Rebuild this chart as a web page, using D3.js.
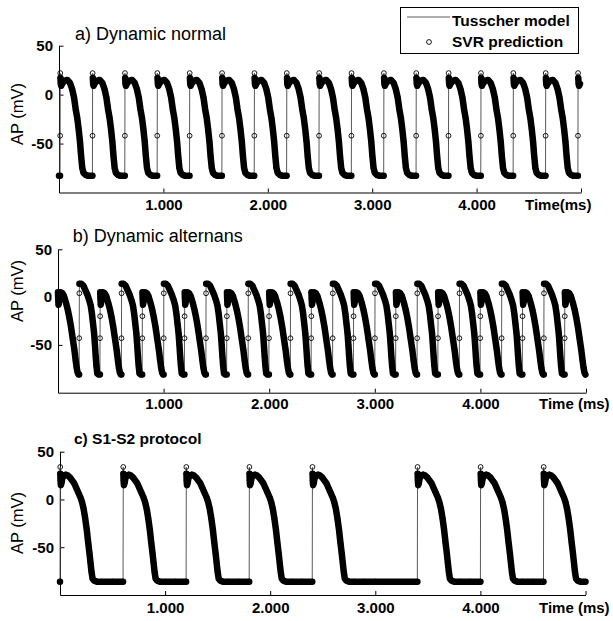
<!DOCTYPE html>
<html><head><meta charset="utf-8">
<script src="https://cdn.jsdelivr.net/npm/d3@7"></script>
<style>body{margin:0;background:#fff} svg{display:block}</style>
</head><body>
<svg id="chart" width="613" height="621"></svg>
<script>
// ================= DATA =================
const yTicks = [-50, 0, 50];
const xTicks = [1000, 2000, 3000, 4000, 5000];
const xTickLabels = ["1.000", "2.000", "3.000", "4.000", ""];
const panelTitles = ["a) Dynamic normal", "b) Dynamic alternans", "c) S1-S2 protocol"];
const xAxisLabels = ["Time(ms)", "Time (ms)", "Time (ms)"];
const yAxisLabel = "AP (mV)";
const legendLabels = ["Tusscher model", "SVR prediction"];

// a) Dynamic normal: beat start times (ms)
const beatStartsA = [0,310,620,930,1240,1550,1860,2170,2480,2790,3100,3410,3720,4030,4340,4650,4960];
// action potential of one beat, [offset ms, mV]: fast upstroke samples and the rest of the beat
const upstrokeA = [[11,-42],[12,22]];
const beatA = [[0,-83],[10,-83],[14,17],[17,11],[21,9],[30,11],[50,14],[80,15],[105,12],[125,6],
  [144,-3],[160,-15],[175,-24],[188,-35],[201,-48],[212,-63],[223,-75],[235,-80],[255,-82],[280,-83],[300,-83]];

// b) Dynamic alternans: short (low) beats and tall beats alternate
const shortStartsB = [-3,397,797,1197,1597,1997,2397,2797,3197,3597,3997,4397,4797];
const tallStartsB = [200,600,1000,1400,1800,2200,2600,3000,3400,3800,4200,4600];
const upstrokeShortB = [[1,-43],[2,-20]];
const beatShortB = [[0,-81],[3,5],[5,-2],[8,-8],[13,-5],[20,1],[30,5],[45,4],[60,1],[79,-6],[95,-13],
  [110,-21],[126,-31],[142,-43],[158,-55],[170,-66],[180,-74],[189,-79],[197,-81]];
const upstrokeTallB = [[1,-43],[2,4]];
const beatTallB = [[0,-81],[3,14],[20,14],[40,12],[60,7],[80,2],[95,-3],[110,-9],[122,-18],[132,-28],
  [142,-38],[150,-50],[157,-62],[164,-72],[172,-80],[185,-81]];

// c) S1-S2 protocol
const beatStartsC = [0,600,1200,1800,2400,3400,4000,4600];
const upstrokeC = [[2,34]];
const beatC = [[0,-86],[3,27],[5,20],[8,15],[14,17],[22,22],[35,25],[55,26],[75,25],[95,23],[115,20],
  [135,17],[155,12],[175,7],[195,2],[210,-3],[225,-10],[240,-20],[255,-32],[268,-45],[280,-56],
  [290,-66],[300,-76],[310,-83],[325,-85],[350,-86],[400,-86],[500,-86],[599,-86]];

// ================= BUILD =================
function buildSeries(beats) {
  const pts = [];
  beats.forEach(b => {
    b.up.forEach(([t, v]) => pts.push({t: b.start + t, v, up: true}));
    b.body.forEach(([t, v]) => pts.push({t: b.start + t, v, up: false}));
  });
  return pts.filter(p => p.t >= 0 && p.t <= 5000).sort((a, b) => a.t - b.t);
}
const seriesA = buildSeries(beatStartsA.map(s => ({start: s, up: upstrokeA, body: beatA})));
const seriesB = buildSeries([
  ...shortStartsB.map(s => ({start: s, up: upstrokeShortB, body: beatShortB})),
  ...tallStartsB.map(s => ({start: s, up: upstrokeTallB, body: beatTallB}))
]);
const seriesC = buildSeries(beatStartsC.map(s => ({start: s, up: upstrokeC, body: beatC})));

const FONT = "'Liberation Sans', Arial, Helvetica, sans-serif";
const svg = d3.select("#chart");
svg.append("rect").attr("width", 613).attr("height", 621).attr("fill", "#fff");

const panels = [
  {series: seriesA, x0: 59, x1: 581, yTop: 45.7, yBot: 192.5, pad: 6.8,
   title: [75, 40, 18, "normal"], ylab: 114, xlab: [525, 210]},
  {series: seriesB, x0: 58, x1: 586, yTop: 249.3, yBot: 392.7, pad: 5.4,
   title: [72.7, 241.7, 18, "normal"], ylab: 291, xlab: [539, 408.5]},
  {series: seriesC, x0: 60, x1: 585.5, yTop: 451.7, yBot: 595, pad: 7.2,
   title: [74, 444, 15.5, "bold"], ylab: 523, xlab: [539, 613]}
];

panels.forEach((p, i) => {
  const x = d3.scaleLinear().domain([0, 5000]).range([p.x0, p.x1]);
  const y = d3.scaleLinear().domain([-100, 50]).range([p.yBot, p.yTop]);
  const g = svg.append("g");

  // axes
  const ax = g.append("g").attr("transform", `translate(0,${p.yBot})`)
    .call(d3.axisBottom(x).tickValues(xTicks).tickSizeInner(-4).tickSizeOuter(0)
      .tickPadding(p.pad).tickFormat((d, k) => xTickLabels[k]));
  const ay = g.append("g").attr("transform", `translate(${x(0)},0)`)
    .call(d3.axisLeft(y).tickValues(yTicks).tickSizeInner(-4.5).tickSizeOuter(0)
      .tickPadding(6).tickFormat(d => String(d)));
  [ax, ay].forEach(a => {
    a.attr("font-family", FONT).attr("font-size", 15).attr("font-weight", "bold");
    a.selectAll("path,line").attr("stroke", "#000");
    a.selectAll("text").attr("fill", "#000");
  });

  // model line (thin)
  g.append("path").datum(p.series)
    .attr("d", d3.line().x(d => x(d.t)).y(d => y(d.v)))
    .attr("fill", "none").attr("stroke", "#5a5a5a").attr("stroke-width", 1);
  // dense SVR prediction samples form a thick band
  g.append("path").datum(p.series)
    .attr("d", d3.line().defined(d => !d.up).x(d => x(d.t)).y(d => y(d.v)))
    .attr("fill", "none").attr("stroke", "#000").attr("stroke-width", 6.5)
    .attr("stroke-linejoin", "round").attr("stroke-linecap", "round");
  // SVR prediction circles
  g.append("g").selectAll("circle").data(p.series).join("circle")
    .attr("cx", d => x(d.t)).attr("cy", d => y(d.v)).attr("r", 2.4)
    .attr("fill", "none").attr("stroke", "#000").attr("stroke-width", 0.9);

  // texts
  g.append("text").attr("x", p.title[0]).attr("y", p.title[1])
    .attr("font-family", FONT).attr("font-size", p.title[2]).attr("font-weight", p.title[3])
    .text(panelTitles[i]);
  g.append("text").attr("transform", `translate(23,${p.ylab}) rotate(-90)`)
    .attr("text-anchor", "middle").attr("font-family", FONT).attr("font-size", 16.5)
    .text(yAxisLabel);
  g.append("text").attr("x", p.xlab[0]).attr("y", p.xlab[1])
    .attr("font-family", FONT).attr("font-size", 15).attr("font-weight", "bold")
    .text(xAxisLabels[i]);
});

// legend
const lg = svg.append("g");
lg.append("rect").attr("x", 400.5).attr("y", 7.5).attr("width", 178).attr("height", 46)
  .attr("fill", "#fff").attr("stroke", "#000").attr("stroke-width", 1);
lg.append("line").attr("x1", 407).attr("x2", 450).attr("y1", 17).attr("y2", 17)
  .attr("stroke", "#5a5a5a").attr("stroke-width", 1);
lg.append("circle").attr("cx", 429).attr("cy", 42).attr("r", 2.4)
  .attr("fill", "none").attr("stroke", "#000").attr("stroke-width", 0.9);
lg.selectAll("text.lab").data(legendLabels).join("text").attr("class", "lab")
  .attr("x", 452).attr("y", (d, k) => [26, 47][k])
  .attr("font-family", FONT).attr("font-size", 15.5).attr("font-weight", "bold")
  .text(d => d);
</script>
</body></html>
